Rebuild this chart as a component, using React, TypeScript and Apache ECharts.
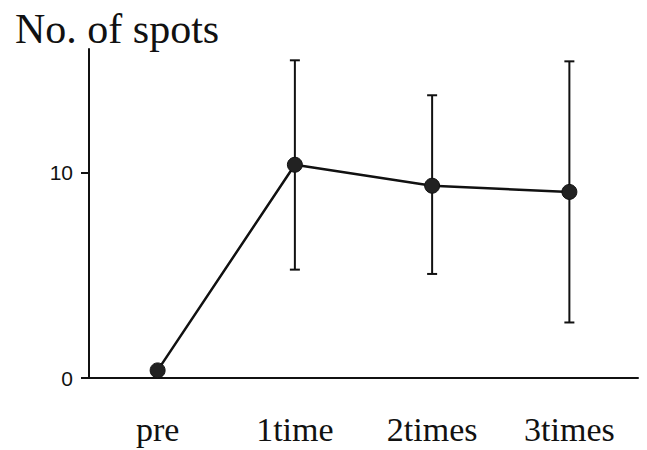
import React, { useEffect, useRef } from "react";
import * as echarts from "echarts";

const categories = ["pre", "1time", "2times", "3times"];
const means = [0.37, 10.37, 9.35, 9.05];
const lows = [0.37, 5.27, 5.06, 2.7];
const highs = [0.37, 15.45, 13.75, 15.4];
const yTicks = [0, 10];

export default function App() {
  const ref = useRef<HTMLDivElement>(null);
  useEffect(() => {
    if (!ref.current) return;
    const chart = echarts.init(ref.current, undefined, { renderer: "svg" });
    const errData = categories.map((_, i) => [i, lows[i], highs[i]]);
    chart.setOption({
      animation: false,
      backgroundColor: "#ffffff",
      title: {
        text: "No. of spots",
        left: 10,
        top: 3,
        textStyle: {
          fontFamily: "Liberation Serif",
          fontSize: 42,
          fontWeight: "normal",
          color: "#111",
        },
      },
      grid: { left: 89, right: 9, top: 49, bottom: 72, containLabel: false },
      xAxis: {
        type: "category",
        data: categories,
        boundaryGap: true,
        axisLine: { lineStyle: { color: "#111", width: 2 } },
        axisTick: { alignWithLabel: true, length: 4, lineStyle: { color: "#111", width: 2 } },
        axisLabel: {
          fontFamily: "Liberation Serif",
          fontSize: 34,
          color: "#111",
          margin: 34,
        },
        splitLine: { show: false },
      },
      yAxis: {
        type: "value",
        min: 0,
        max: 16,
        interval: 10,
        axisLine: { show: true, lineStyle: { color: "#111", width: 2 } },
        axisTick: { show: true, length: 8, customValues: yTicks, lineStyle: { color: "#111", width: 2 } },
        axisLabel: {
          formatter: (v: number) => (yTicks.indexOf(v) >= 0 ? String(v) : ""),
          showMaxLabel: false,
          fontFamily: "Liberation Sans",
          fontSize: 21,
          color: "#111",
          margin: 16,
        },
        splitLine: { show: false },
      },
      series: [
        {
          type: "custom",
          z: 1,
          data: errData,
          renderItem: (params: any, api: any) => {
            const x = api.value(0);
            const lo = api.coord([x, api.value(1)]);
            const hi = api.coord([x, api.value(2)]);
            const hw = 5;
            const style = { stroke: "#111", lineWidth: 2 };
            return {
              type: "group",
              children: [
                { type: "line", shape: { x1: lo[0], y1: lo[1], x2: hi[0], y2: hi[1] }, style },
                { type: "line", shape: { x1: hi[0] - hw, y1: hi[1], x2: hi[0] + hw, y2: hi[1] }, style },
                { type: "line", shape: { x1: lo[0] - hw, y1: lo[1], x2: lo[0] + hw, y2: lo[1] }, style },
              ],
            };
          },
        },
        {
          type: "line",
          z: 3,
          data: means,
          symbol: "circle",
          symbolSize: 15,
          itemStyle: { color: "#222", borderColor: "#111", borderWidth: 1 },
          lineStyle: { color: "#111", width: 2.5 },
        },
      ],
    });
    return () => chart.dispose();
  }, []);
  return (
    <div
      ref={ref}
      style={{ position: "fixed", left: 0, top: 0, width: 647, height: 450 }}
    />
  );
}
